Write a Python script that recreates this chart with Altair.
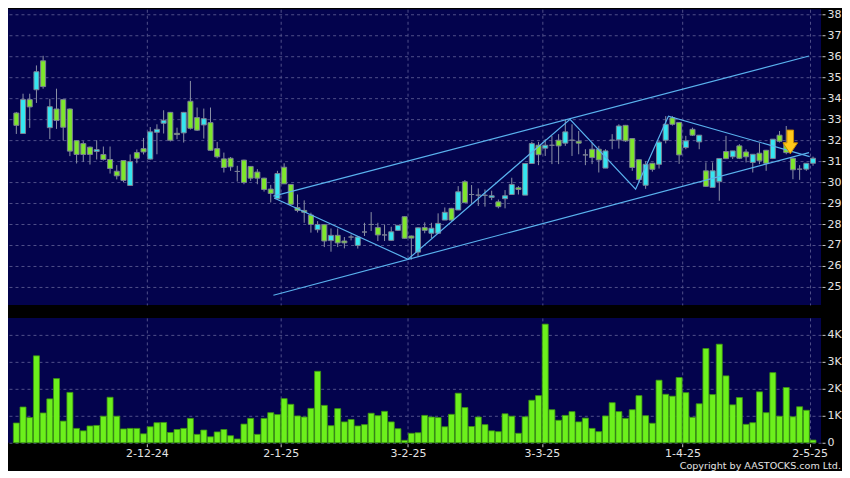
import altair as alt
import pandas as pd

# ---------------- data ----------------
opens = [33.30, 32.32, 33.94, 34.41, 35.79, 32.60, 33.49, 33.94, 33.49, 31.98,
         31.84, 31.67, 31.46, 31.32, 31.08, 30.52, 31.03, 29.84, 31.41, 31.60,
         31.10, 32.38, 32.81, 33.33, 32.33, 32.35, 33.86, 33.08, 32.73, 32.84,
         31.60, 31.11, 31.14, 30.51, 31.05, 30.75, 30.48, 30.19, 29.67, 29.21,
         30.71, 29.89, 28.78, 28.65, 28.43, 27.73, 27.97, 27.21, 27.46, 27.19,
         27.38, 26.98, 27.62, 27.98, 27.83, 27.48, 27.22, 27.70, 28.35, 27.43,
         26.66, 27.83, 27.56, 27.56, 28.19, 28.75, 28.67, 30.02, 29.41, 29.38,
         29.37, 29.27, 29.06, 29.21, 29.41, 29.73, 29.38, 30.89, 31.76, 31.62,
         31.76, 32.00, 31.86, 32.00, 31.95, 31.30, 31.57, 31.57, 30.67, 32.00,
         32.02, 32.71, 32.08, 31.07, 29.85, 30.90, 30.85, 32.00, 33.07, 32.85,
         31.65, 32.52, 31.92, 30.54, 29.75, 30.02, 31.46, 31.21, 31.73, 31.44,
         30.94, 31.38, 31.52, 31.13, 32.24, 31.89, 31.14, 30.62, 30.62, 30.90]
highs = [33.35, 34.22, 34.22, 35.57, 36.03, 33.98, 34.46, 33.98, 33.52, 32.00,
         31.95, 31.70, 32.00, 31.70, 31.70, 30.81, 31.05, 31.32, 31.56, 32.11,
         32.63, 32.76, 33.43, 33.35, 32.60, 33.35, 34.83, 33.56, 33.51, 33.56,
         31.92, 31.41, 31.20, 30.78, 31.07, 30.77, 30.62, 30.21, 29.87, 30.54,
         30.90, 29.91, 29.41, 29.13, 28.54, 28.14, 27.99, 27.79, 27.79, 27.38,
         27.50, 27.43, 28.06, 28.57, 28.06, 27.98, 27.87, 27.95, 28.37, 27.45,
         27.84, 28.08, 28.06, 28.51, 28.79, 28.77, 29.81, 30.10, 29.86, 29.70,
         29.65, 29.59, 29.17, 29.62, 30.21, 29.81, 30.89, 31.92, 31.92, 32.05,
         32.21, 32.29, 33.00, 32.76, 32.44, 31.57, 31.89, 31.73, 31.57, 32.29,
         32.76, 32.73, 32.10, 31.09, 31.00, 30.92, 31.95, 33.15, 33.15, 32.87,
         32.21, 32.60, 32.24, 30.94, 30.94, 31.13, 32.21, 31.49, 31.81, 31.57,
         31.33, 31.86, 31.54, 32.05, 32.44, 32.68, 31.16, 30.81, 30.90, 31.22]
lows = [32.30, 32.30, 32.59, 33.78, 34.46, 32.06, 32.54, 31.98, 31.24, 30.89,
        30.97, 30.84, 31.08, 31.03, 30.41, 30.13, 30.00, 29.82, 30.90, 31.32,
        31.08, 31.33, 32.32, 31.94, 32.05, 31.89, 32.51, 32.44, 32.08, 31.49,
        31.14, 30.46, 30.54, 30.03, 29.90, 30.06, 29.90, 29.55, 29.03, 29.21,
        29.92, 28.94, 28.56, 28.06, 27.59, 27.59, 26.90, 26.68, 26.90, 26.84,
        27.22, 26.83, 27.43, 27.67, 27.19, 27.19, 27.19, 27.67, 27.30, 26.30,
        26.44, 27.56, 27.32, 27.56, 28.19, 28.16, 28.67, 29.02, 28.98, 28.86,
        28.83, 29.14, 28.75, 28.75, 29.41, 29.41, 29.38, 30.89, 30.81, 31.25,
        30.86, 30.86, 31.73, 31.25, 31.33, 30.81, 30.86, 30.46, 30.67, 31.57,
        31.60, 31.92, 30.54, 30.00, 29.68, 30.50, 30.65, 31.85, 32.70, 30.87,
        31.57, 32.20, 31.57, 29.78, 29.75, 29.11, 31.10, 31.10, 31.10, 30.94,
        30.46, 30.86, 30.54, 31.10, 31.89, 31.33, 30.14, 30.11, 30.54, 30.78]
closes = [32.71, 33.94, 33.59, 35.27, 34.56, 33.60, 32.94, 32.62, 31.48, 31.32,
          31.32, 31.32, 31.55, 31.08, 30.65, 30.30, 30.08, 30.98, 31.14, 31.44,
          32.40, 32.52, 32.95, 32.00, 32.27, 33.33, 32.57, 32.48, 33.03, 31.52,
          31.21, 30.70, 30.73, 30.51, 29.98, 30.19, 30.19, 29.65, 29.46, 30.41,
          29.92, 28.94, 28.65, 28.56, 27.98, 27.98, 27.19, 27.46, 27.10, 27.10,
          27.38, 27.38, 27.62, 27.98, 27.48, 27.48, 27.63, 27.94, 27.32, 27.33,
          27.82, 27.70, 27.80, 28.03, 28.56, 28.19, 29.54, 29.02, 29.41, 29.38,
          29.37, 29.35, 28.83, 29.35, 29.89, 29.65, 30.89, 31.84, 31.31, 31.76,
          31.76, 31.73, 32.40, 32.00, 31.86, 31.30, 31.17, 31.06, 31.49, 32.00,
          32.68, 31.97, 30.70, 30.12, 30.85, 30.61, 31.91, 32.76, 32.76, 31.30,
          31.97, 32.24, 32.24, 29.80, 30.54, 31.13, 31.12, 31.49, 31.14, 31.21,
          31.33, 31.02, 30.90, 32.05, 31.95, 31.41, 30.59, 30.62, 30.90, 31.14]
volumes_k = [0.73, 1.32, 0.93, 3.21, 1.10, 1.62, 2.37, 0.80, 1.86, 0.53,
             0.44, 0.62, 0.64, 0.98, 1.68, 0.98, 0.51, 0.53, 0.53, 0.33,
             0.59, 0.74, 0.75, 0.38, 0.49, 0.53, 0.90, 0.31, 0.47, 0.22,
             0.40, 0.49, 0.26, 0.14, 0.69, 0.90, 0.31, 0.90, 1.11, 1.04,
             1.63, 1.42, 0.99, 0.95, 1.27, 2.64, 1.38, 0.63, 1.26, 0.77,
             0.86, 0.62, 0.67, 1.09, 1.00, 1.16, 0.77, 0.52, 0.09, 0.35,
             0.37, 1.01, 0.95, 0.93, 0.59, 1.05, 1.83, 1.30, 0.60, 0.95,
             0.67, 0.44, 0.41, 1.07, 0.98, 0.35, 0.96, 1.57, 1.74, 4.38,
             1.22, 0.83, 1.01, 1.15, 0.77, 0.91, 0.53, 0.41, 0.99, 1.48,
             1.15, 0.90, 1.22, 1.74, 1.00, 0.72, 2.31, 1.79, 1.72, 2.41,
             1.85, 0.94, 1.44, 3.48, 1.78, 3.64, 2.47, 1.40, 1.67, 0.68,
             0.74, 1.88, 1.11, 2.59, 0.98, 2.04, 0.96, 1.33, 1.20, 0.10]

month_pos = [19.5, 39.5, 58.5, 78.5, 99.5, 118.5]
month_labels = ["2-12-24", "2-1-25", "3-2-25", "3-3-25", "1-4-25", "2-5-25"]
price_ticks = list(range(25, 39))
vol_ticks = [0, 1, 2, 3, 4]
vol_tick_labels = ["0", "1K", "2K", "3K", "4K"]

# trend lines: (bar index, price)
upper_idx = [38.4, 118.4]
upper_px = [29.33, 36.02]
lower_idx = [38.4, 118.4]
lower_px = [24.60, 31.41]
zig_idx = [38.5, 58.5, 82.7, 92.5, 97.4, 118.5]
zig_px = [29.24, 26.32, 33.00, 29.66, 33.15, 31.22]

arrow_idx = [115.6]
arrow_px = [31.92]

copyright_text = "Copyright by AASTOCKS.com Ltd."

# ---------------- tables ----------------
n = len(opens)
df = pd.DataFrame({"idx": list(range(n)), "open": opens, "high": highs,
                   "low": lows, "close": closes, "vol": volumes_k})
df["dir"] = ["up" if c > o else ("down" if c < o else "flat")
             for o, c in zip(opens, closes)]

lines_rows = []
for name, xs, ys in [("upper", upper_idx, upper_px), ("lower", lower_idx, lower_px),
                     ("zig", zig_idx, zig_px)]:
    for k, (a, b) in enumerate(zip(xs, ys)):
        lines_rows.append({"line": name, "ord": k, "idx": a, "price": b})
lines_df = pd.DataFrame(lines_rows)
arrow_df = pd.DataFrame({"idx": arrow_idx, "price": arrow_px})

# ---------------- styling ----------------
W = 814
H1 = 296
H2 = 125
FONT = "DejaVu Sans"
GRID = "#50508a"
LABEL = "#e4e4e4"

xscale = alt.Scale(domain=[-0.5, 119.45], nice=False, zero=False)
pscale = alt.Scale(domain=[24.14, 38.25], nice=False, zero=False)
vscale = alt.Scale(domain=[0, 4.61], nice=False, zero=False)
cscale = alt.Scale(domain=["up", "down", "flat"],
                   range=["#35e6f0", "#7ee62c", "#9aa0b0"])

month_expr = "{}[indexof({}, datum.value)]".format(
    "[" + ",".join("'%s'" % s for s in month_labels) + "]",
    "[" + ",".join(str(v) for v in month_pos) + "]")
vol_expr = "{}[indexof({}, datum.value)]".format(
    "[" + ",".join("'%s'" % s for s in vol_tick_labels) + "]",
    "[" + ",".join(str(v) for v in vol_ticks) + "]")

x_top_axis = alt.Axis(values=month_pos, labels=False, ticks=False,
                      domain=False, grid=True, title=None)
x_bot_axis = alt.Axis(values=month_pos, labelExpr=month_expr, ticks=True,
                      tickSize=3, offset=1, labelPadding=1, domain=False,
                      grid=True, title=None, labelFlush=False, labelOverlap=False)
y_price_axis = alt.Axis(values=price_ticks, orient="right", grid=True, domain=False,
                        tickSize=3, offset=1, labelPadding=2, title=None,
                        labelOverlap=False, labelFlush=False)
y_vol_axis = alt.Axis(values=vol_ticks, labelExpr=vol_expr, orient="right",
                      grid=True, domain=False, tickSize=3, offset=1,
                      labelPadding=2, title=None, labelOverlap=False,
                      labelFlush=False)


def xt():
    return alt.X("idx:Q", scale=xscale, axis=x_top_axis)


def yp(field):
    return alt.Y(field, type="quantitative", scale=pscale, axis=y_price_axis)


wicks = alt.Chart(df).mark_rule(color="#8c92a6", strokeWidth=1).encode(
    x=xt(), y=yp("low"), y2="high:Q",
)
bodies = alt.Chart(df).mark_bar(size=5, stroke="#7a8194", strokeWidth=1).encode(
    x=xt(), y=yp("open"), y2="close:Q",
    color=alt.Color("dir:N", scale=cscale, legend=None),
)
trend = alt.Chart(lines_df).mark_line(color="#5ab2ee", strokeWidth=1.2).encode(
    x=xt(), y=yp("price"), detail="line:N", order="ord:Q",
)
arrow_path = "M-0.28,-1L0.28,-1L0.28,0.08L0.62,0.08L0,1L-0.62,0.08L-0.28,0.08Z"
arrow = alt.Chart(arrow_df).mark_point(
    shape=arrow_path, filled=True, fill="#ffc81a", stroke="#c98a00",
    strokeWidth=1, opacity=1, size=560).encode(
    x=xt(), y=yp("price"),
)

top = alt.layer(wicks, bodies, trend, arrow).properties(width=W, height=H1)

vol = alt.Chart(df).mark_bar(size=6, color="#6cf01c", stroke="#3c9412",
                             strokeWidth=0.8).encode(
    x=alt.X("idx:Q", scale=xscale, axis=x_bot_axis),
    y=alt.Y("vol:Q", scale=vscale, axis=y_vol_axis),
)
copy = alt.Chart(pd.DataFrame({"t": [copyright_text]})).mark_text(
    align="right", baseline="alphabetic", font=FONT, fontSize=9.6,
    color=LABEL).encode(
    text="t:N", x=alt.value(W + 20), y=alt.value(H2 + 26))

bottom = alt.layer(vol, copy).properties(width=W, height=H2)

chart = alt.vconcat(top, bottom, spacing=13).properties(
    padding=0, background="#000000"
).configure_view(
    fill="#03034d", strokeWidth=0
).configure_axis(
    gridColor=GRID, gridDash=[3, 3], gridWidth=1, labelOverlap=False,
    tickColor="#c8c8c8", labelColor=LABEL, labelFont=FONT, labelFontSize=11,
)

chart.save("out.html", embed_options={"renderer": "svg", "actions": False})
